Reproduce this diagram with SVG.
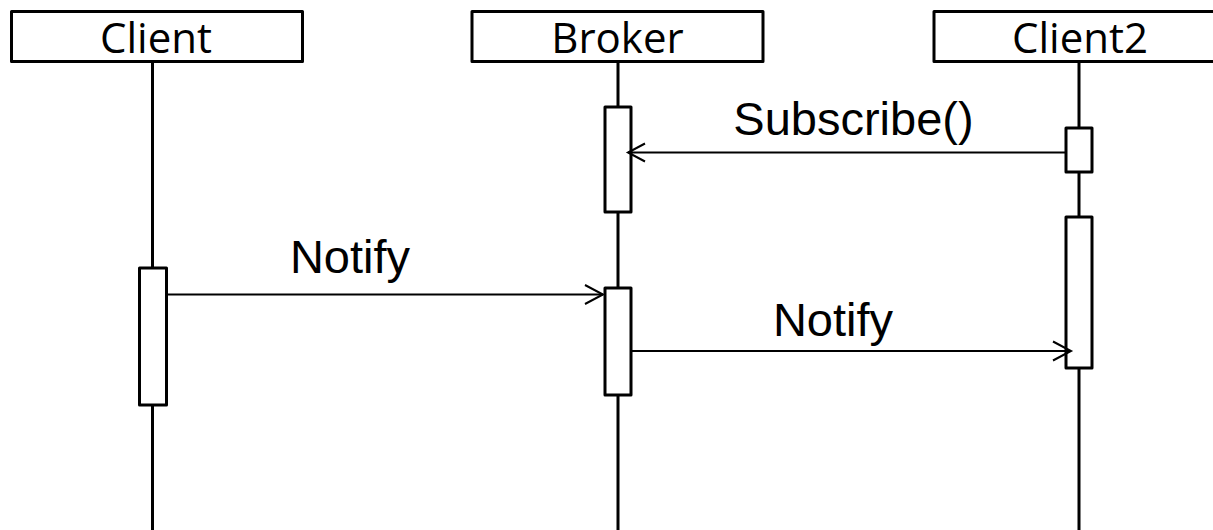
<svg xmlns="http://www.w3.org/2000/svg" width="1213" height="530" viewBox="0 0 1213 530">
<style>
.hdr{fill:#fff;stroke:#000;stroke-width:3;stroke-linejoin:round}
.hl{font-family:"Open Sans","Liberation Sans",sans-serif;font-size:42px;fill:#000;text-anchor:middle}
.life{stroke:#000;stroke-width:3;fill:none}
.act{fill:#fff;stroke:#000;stroke-width:3;stroke-linejoin:round}
.msg{stroke:#000;stroke-width:2;fill:none}
.ml{font-family:"Liberation Sans",Arial,sans-serif;font-size:47px;fill:#000;text-anchor:middle}
</style>
<rect width="1213" height="530" fill="#fff"/>
<g id="lifelines">
<line class="life" x1="152.5" y1="62" x2="152.5" y2="530"/>
<line class="life" x1="618" y1="62" x2="618" y2="530"/>
<line class="life" x1="1079" y1="62" x2="1079" y2="530"/>
</g>
<g id="client">
<rect class="hdr" x="11.5" y="11.5" width="291" height="50"/>
<text class="hl" x="156" y="53">Client</text>
</g>
<g id="broker">
<rect class="hdr" x="472" y="11.5" width="291" height="50"/>
<text class="hl" x="617.5" y="53">Broker</text>
</g>
<g id="client2">
<rect class="hdr" x="934" y="11.5" width="291" height="50"/>
<text class="hl" x="1080" y="53">Client2</text>
</g>
<g id="activations">
<rect class="act" x="605" y="107" width="26" height="105"/>
<rect class="act" x="1066" y="128" width="26" height="44"/>
<rect class="act" x="1066" y="217" width="26" height="151"/>
<rect class="act" x="139.5" y="268" width="27" height="137"/>
<rect class="act" x="605" y="288" width="26" height="107"/>
</g>
<g id="connectors">
<line class="msg" x1="1065" y1="152.5" x2="628" y2="152.5"/>
<polyline class="msg" points="645,143.5 628,152.5 645,161.5"/>
<text class="ml" x="853.5" y="135">Subscribe()</text>
<line class="msg" x1="167" y1="294.5" x2="603" y2="294.5"/>
<polyline class="msg" points="585,285 603,294.5 585,304"/>
<text class="ml" x="350" y="273">Notify</text>
<line class="msg" x1="632" y1="351" x2="1071" y2="351"/>
<polyline class="msg" points="1053,341.5 1071,351 1053,360.5"/>
<text class="ml" x="833" y="336">Notify</text>
</g>
</svg>
